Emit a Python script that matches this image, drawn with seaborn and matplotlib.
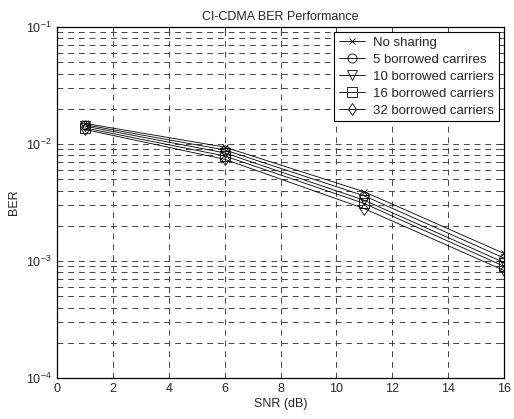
import matplotlib
matplotlib.use("Agg")
import matplotlib.pyplot as plt
import seaborn as sns
import pandas as pd
import numpy as np
from matplotlib.ticker import LogLocator, NullFormatter, FixedLocator

snr = [1, 6, 11, 16]
series_names = ["No sharing", "5 borrowed carrires", "10 borrowed carriers",
                "16 borrowed carriers", "32 borrowed carriers"]
ber_no_sharing = [0.0150, 0.0094, 0.0039, 0.00116]
ber_5 = [0.0146, 0.0089, 0.0036, 0.00106]
ber_10 = [0.0142, 0.0084, 0.0033, 0.00097]
ber_16 = [0.0137, 0.0079, 0.0031, 0.00090]
ber_32 = [0.0133, 0.0074, 0.0028, 0.00083]
x_ticks = [0, 2, 4, 6, 8, 10, 12, 14, 16]
marker_list = ["x", "o", "v", "s", "d"]

sns.set_style("white")
plt.rcParams["font.family"] = ["Liberation Sans", "DejaVu Sans"]
plt.rcParams["mathtext.fontset"] = "custom"
plt.rcParams["mathtext.rm"] = "Liberation Sans"
plt.rcParams["mathtext.it"] = "Liberation Sans"

fig = plt.figure(figsize=(5.14, 4.19), dpi=100)
ax = fig.add_axes([0.111, 0.098, 0.8695, 0.8376])

for name, vals, mk in zip(series_names, [ber_no_sharing, ber_5, ber_10, ber_16, ber_32], marker_list):
    d = pd.DataFrame({"SNR": snr, "BER": vals})
    sns.lineplot(data=d, x="SNR", y="BER", ax=ax, color="black", label=name,
                 marker=mk, linewidth=0.6, markersize=6.5 if mk != "x" else 4,
                 markerfacecolor="none", markeredgecolor="black", markeredgewidth=0.6)

ax.set_yscale("log")
ax.set_xlim(0, 16)
ax.set_ylim(1e-4, 1e-1)
ax.xaxis.set_major_locator(FixedLocator(x_ticks))
ax.yaxis.set_major_locator(LogLocator(base=10, numticks=10))
ax.yaxis.set_minor_locator(LogLocator(base=10, subs=np.arange(2, 10), numticks=20))
ax.yaxis.set_minor_formatter(NullFormatter())

ax.grid(True, which="major", axis="both", color="#444444", linestyle=(0, (6, 5)), linewidth=0.7)
ax.grid(True, which="minor", axis="y", color="#444444", linestyle=(0, (6, 5)), linewidth=0.7)
ax.tick_params(axis="both", which="both", direction="in", labelsize=9,
               top=True, right=True, length=4, width=0.6, pad=4)
ax.tick_params(axis="y", which="minor", length=2)
for sp in ax.spines.values():
    sp.set_linewidth(0.9)
    sp.set_color("black")

ax.set_xlabel("SNR (dB)", fontsize=9, labelpad=2)
ax.set_ylabel("BER", fontsize=9, labelpad=4)
ax.set_title("CI-CDMA BER Performance", fontsize=9, pad=5)

leg = ax.legend(loc="upper right", fontsize=9.5, frameon=True, fancybox=False,
                edgecolor="black", framealpha=1, borderaxespad=0.4,
                handlelength=2.0, handletextpad=0.6, labelspacing=0.35, borderpad=0.35)
leg.get_frame().set_linewidth(0.8)
for h in leg.legend_handles:
    h.set_markerfacecolor("none")
    h.set_markeredgecolor("black")

fig.savefig("out.png", dpi=100)
